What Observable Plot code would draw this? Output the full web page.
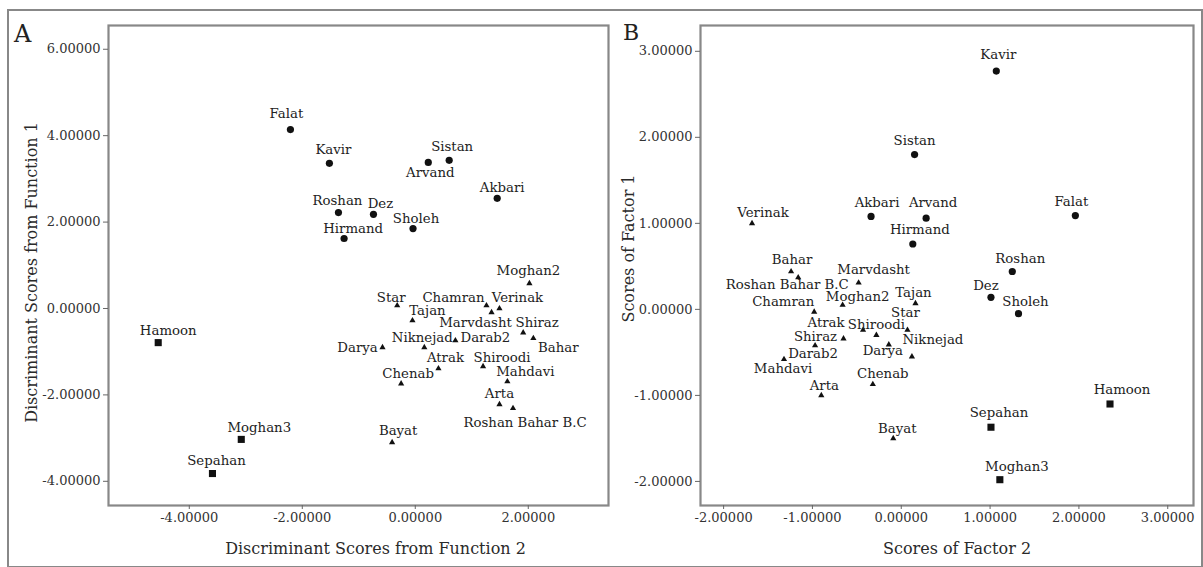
<!DOCTYPE html>
<html><head><meta charset="utf-8">
<script src="https://cdn.jsdelivr.net/npm/d3@7"></script>
<script src="https://cdn.jsdelivr.net/npm/@observablehq/plot@0.6"></script>
<style>
body{margin:0;background:#fff;}
#fig{position:relative;width:1203px;height:567px;overflow:hidden;font-family:"DejaVu Serif",serif;}
#outer{position:absolute;left:7px;top:9px;width:1196px;height:558px;border:2px solid #888;box-sizing:border-box;border-bottom-width:1px}
.panel{position:absolute;top:0}
#letters{position:absolute;left:0;top:0}
</style></head>
<body>
<div id="fig">
<div id="outer"></div>
<div id="pa" class="panel" style="left:0"></div>
<div id="pb" class="panel" style="left:612px"></div>
<svg id="letters" width="1203" height="567"><text x="14" y="42" font-size="24" fill="#222" font-family="DejaVu Serif">A</text><text x="623" y="40" font-size="22" fill="#222" font-family="DejaVu Serif">B</text></svg>
</div>
<script>
// ---- data ----
const cultivars = ["Falat","Kavir","Arvand","Sistan","Akbari","Roshan","Dez","Sholeh","Hirmand",
  "Hamoon","Moghan3","Sepahan",
  "Moghan2","Star","Tajan","Chamran","Verinak","Marvdasht","Shiraz","Bahar","Niknejad","Darab2",
  "Darya","Atrak","Shiroodi","Chenab","Mahdavi","Arta","Roshan Bahar B.C","Bayat"];
const groups = [1,1,1,1,1,1,1,1,1, 3,3,3, 2,2,2,2,2,2,2,2,2,2,2,2,2,2,2,2,2,2];
// Panel A: discriminant scores
const function2 = [-2.21,-1.52,0.23,0.60,1.45,-1.36,-0.74,-0.04,-1.26,
  -4.55,-3.08,-3.59,
  2.02,-0.32,-0.05,1.26,1.49,1.35,1.91,2.09,0.16,0.71,-0.58,0.41,1.20,-0.25,1.63,1.49,1.73,-0.41];
const function1 = [4.14,3.36,3.38,3.43,2.55,2.22,2.18,1.85,1.62,
  -0.79,-3.03,-3.82,
  0.58,0.07,-0.28,0.07,0.00,-0.09,-0.56,-0.69,-0.90,-0.74,-0.90,-1.39,-1.34,-1.74,-1.69,-2.22,-2.31,-3.10];
// Panel B: factor scores
const factor2 = [1.96,1.07,0.28,0.15,-0.34,1.25,1.01,1.32,0.13,
  2.35,1.11,1.01,
  -0.66,0.07,0.16,-0.98,-1.68,-0.48,-0.65,-1.24,0.12,-0.97,-0.14,-0.43,-0.28,-0.32,-1.32,-0.90,-1.16,-0.09];
const factor1 = [1.09,2.77,1.06,1.80,1.08,0.44,0.14,-0.05,0.76,
  -1.10,-1.98,-1.37,
  0.05,-0.24,0.07,-0.03,1.00,0.31,-0.34,0.44,-0.55,-0.42,-0.41,-0.24,-0.30,-0.87,-0.58,-1.00,0.37,-1.50];
const ticksA_x = [-4,-2,0,2], ticksA_y = [-4,-2,0,2,4,6];
const ticksB_x = [-2,-1,0,1,2,3], ticksB_y = [-2,-1,0,1,2,3];

// ---- label placement (pixel nudges relative to the point) ----
const nudgeA = {Falat:[-4,-16],Kavir:[4,-14],Sistan:[3,-14],Arvand:[2,10],Akbari:[5,-11],Roshan:[-1,-12],
  Dez:[7,-11],Sholeh:[3,-10],Hirmand:[9,-10],Hamoon:[10,-12],Moghan3:[18,-12],Sepahan:[4,-13],
  Moghan2:[-1,-13],Star:[-6,-8],Tajan:[15,-10],Chamran:[-33,-8],Verinak:[18,-11],Marvdasht:[-16,10],
  Shiraz:[14,-10],Bahar:[25,9],Niknejad:[-2,-10],Darab2:[30,-3],Darya:[-25,0],Atrak:[7,-11],
  Shiroodi:[19,-9],Chenab:[7,-10],Mahdavi:[18,-10],Arta:[0,-11],"Roshan Bahar B.C":[12,14],Bayat:[6,-12]};
const nudgeB = {Kavir:[2,-16],Sistan:[0,-14],Arvand:[7,-15],Hirmand:[7,-14],Falat:[-4,-14],Roshan:[8,-13],
  Dez:[-5,-12],Sholeh:[7,-12],Akbari:[6,-14],Hamoon:[12,-14],Sepahan:[8,-14],Moghan3:[17,-13],
  Verinak:[11,-11],Bahar:[1,-12],"Roshan Bahar B.C":[-11,7],Marvdasht:[15,-13],Moghan2:[15,-8],
  Tajan:[-2,-11],Chamran:[-31,-10],Star:[-2,-17],Atrak:[-37,-7],Shiroodi:[0,-10],Shiraz:[-28,-2],
  Darab2:[-2,8],Darya:[-6,6],Niknejad:[21,-17],Mahdavi:[-1,9],Chenab:[10,-10],Arta:[3,-10],Bayat:[4,-10]};

const fmt = d => d.toFixed(5);
const symbolFor = {1:"circle",2:"triangle",3:"square"};
const rFor = {1:3.6,2:2.3,3:4.0};

function panel(o){
  const data = cultivars.map((n,i)=>({name:n,g:groups[i],x:o.xs[i],y:o.ys[i]}));
  const dotMarks = [1,2,3].map(g => Plot.dot(data.filter(d=>d.g===g),
    {x:"x",y:"y",symbol:()=>symbolFor[g],r:rFor[g],fill:"#111",stroke:"none"}));
  const labelMarks = data.map(d => Plot.text([d],
    {x:"x",y:"y",text:"name",dx:o.nudge[d.name][0],dy:o.nudge[d.name][1],
     fontSize:13.3,fill:"#222",textAnchor:"middle"}));
  return Plot.plot({
    width:o.width, height:567, marginLeft:o.ml, marginRight:o.mr, marginTop:25, marginBottom:62,
    style:{fontFamily:"DejaVu Serif, serif", background:"transparent", color:"#333"},
    x:{domain:o.xDomain}, y:{domain:o.yDomain},
    symbol:{type:"identity"},
    marks:[
      Plot.frame({stroke:"#888",strokeWidth:2.2}),
      Plot.axisX(o.xTicks,{tickFormat:fmt,tickSize:4,tickPadding:3,fontSize:13,label:null,stroke:"#666",fill:"#333"}),
      Plot.axisY(o.yTicks,{tickFormat:fmt,tickSize:5,tickPadding:3,fontSize:13,label:null,stroke:"#666",fill:"#333"}),
      Plot.text([o.xLabel],{frameAnchor:"bottom",dx:o.xdx,dy:48,fontSize:16,fill:"#2a2a2a",textAnchor:"middle"}),
      Plot.text([o.yLabel],{frameAnchor:"left",dx:o.ydx,dy:o.ydy,rotate:-90,fontSize:16,fill:"#2a2a2a",textAnchor:"middle",lineAnchor:"middle"}),
      ...dotMarks,
      ...labelMarks
    ]
  });
}

document.getElementById("pa").append(panel({
  xs:function2, ys:function1, width:612, ml:108, mr:4,
  xDomain:[-5.43,3.42], yDomain:[-4.56,6.55], xTicks:ticksA_x, yTicks:ticksA_y,
  xLabel:"Discriminant Scores from Function 2", yLabel:"Discriminant Scores from Function 1",
  xdx:17, ydx:-77, ydy:7, nudge:nudgeA
}));
document.getElementById("pb").append(panel({
  xs:factor2, ys:factor1, width:591, ml:88, mr:10,
  xDomain:[-2.26,3.29], yDomain:[-2.28,3.30], xTicks:ticksB_x, yTicks:ticksB_y,
  xLabel:"Scores of Factor 2", yLabel:"Scores of Factor 1",
  xdx:10, ydx:-72, ydy:-17, nudge:nudgeB
}));
</script>
</body></html>
